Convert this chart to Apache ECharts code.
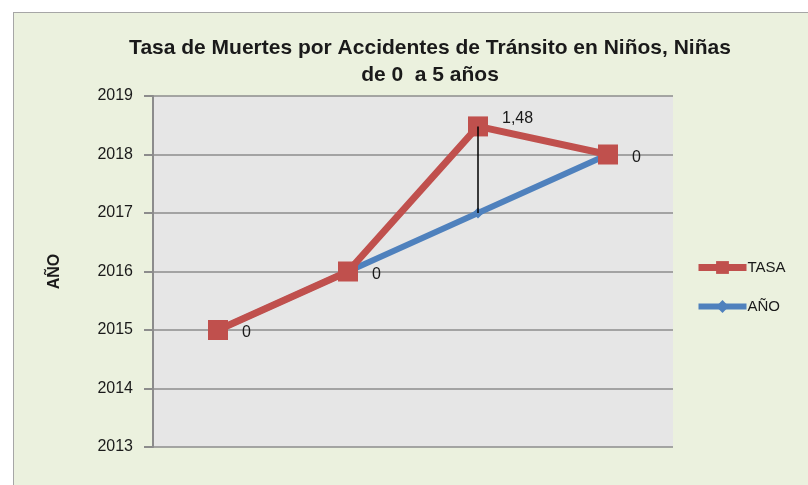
<!DOCTYPE html>
<html>
<head>
<meta charset="utf-8">
<script src="https://cdn.jsdelivr.net/npm/echarts@6/dist/echarts.min.js"></script>
<style>
  html, body { margin: 0; padding: 0; background: #ffffff; }
  #chart {
    position: absolute;
    left: 13px;
    top: 12px;
    width: 795px;
    height: 473px;
    background: #EBF1DE;
    border-left: 1px solid #a6a6a6;
    border-top: 1px solid #a6a6a6;
  }
</style>
</head>
<body>
<div id="chart"></div>
<script>
// categorias (sin etiqueta visible en el eje X)
var categorias = ['2015', '2016', '2017', '2018'];
// serie base
var anio = [2015, 2016, 2017, 2018];
// tasa, apilada sobre AÑO
var tasa = [0, 0, 1.48, 0];
var ticksY = { min: 2013, max: 2019, interval: 1 };

var fuente = '"Liberation Sans", Arial, sans-serif';

var chart = echarts.init(document.getElementById('chart'));

// lineas max-min entre las dos series
var lineasAltoBajo = [];
for (var i = 0; i < categorias.length; i++) {
  if (tasa[i] !== 0) {
    lineasAltoBajo.push([
      { coord: [i, anio[i]] },
      { coord: [i, anio[i] + tasa[i]] }
    ]);
  }
}

var etiquetasTasa = tasa.map(function (v) {
  var item = { value: v };
  if (v !== 0) {
    item.label = { offset: [0, -8] };
  } else {
    item.label = { offset: [0, 3] };
  }
  return item;
});

var option = {
  animation: false,
  title: {
    text: 'Tasa de Muertes por Accidentes de Tránsito en Niños, Niñas\nde 0  a 5 años',
    left: 411,
    top: 17,
    textAlign: 'center',
    textStyle: {
      fontFamily: fuente,
      fontSize: 21,
      fontWeight: 'bold',
      color: '#1a1a1a',
      lineHeight: 27
    }
  },
  legend: {
    data: [
      { name: 'TASA', itemStyle: { color: '#C0504D' }, lineStyle: { color: '#C0504D', width: 7 } },
      { name: 'AÑO', itemStyle: { color: '#4F81BD' }, lineStyle: { color: '#4F81BD', width: 6 } }
    ],
    orient: 'vertical',
    left: 676,
    top: 242,
    itemWidth: 48,
    itemHeight: 16,
    itemGap: 24,
    textStyle: { fontFamily: fuente, fontSize: 15, color: '#1a1a1a', padding: [0, 0, 0, -4] }
  },
  grid: {
    left: 139,
    top: 83,
    right: 136,
    bottom: 39,
    show: true,
    backgroundColor: '#E6E6E6',
    borderWidth: 0
  },
  xAxis: {
    type: 'category',
    data: categorias,
    boundaryGap: true,
    axisLine: { show: false },
    axisTick: { show: false },
    axisLabel: { show: false },
    splitLine: { show: false }
  },
  yAxis: {
    type: 'value',
    min: ticksY.min,
    max: ticksY.max,
    interval: ticksY.interval,
    name: 'AÑO',
    nameLocation: 'middle',
    nameRotate: 90,
    nameGap: 90,
    nameTextStyle: { fontFamily: fuente, fontSize: 16, fontWeight: 'bold', color: '#1a1a1a' },
    axisLine: { show: true, lineStyle: { color: '#8c8c8c', width: 2 } },
    axisTick: { show: true, inside: false, length: 9, lineStyle: { color: '#8c8c8c', width: 2 } },
    axisLabel: {
      margin: 20, fontFamily: fuente, fontSize: 16, color: '#1a1a1a',
      formatter: function (v) { return String(v); }
    },
    splitLine: { show: true, lineStyle: { color: '#8c8c8c', width: 1.5 } }
  },
  series: [
    {
      name: 'AÑO',
      type: 'line',
      stack: 'total',
      data: anio,
      symbol: 'diamond',
      symbolSize: 11,
      itemStyle: { color: '#4F81BD' },
      lineStyle: { color: '#4F81BD', width: 6 },
      z: 2
    },
    {
      name: 'TASA',
      type: 'line',
      stack: 'total',
      data: etiquetasTasa,
      symbol: 'rect',
      symbolSize: 20,
      itemStyle: { color: '#C0504D' },
      lineStyle: { color: '#C0504D', width: 7 },
      label: {
        show: true,
        position: 'right',
        distance: 14,
        fontFamily: fuente,
        fontSize: 16,
        color: '#1a1a1a',
        formatter: function (p) { return String(p.value).replace('.', ','); }
      },
      markLine: {
        silent: true,
        symbol: ['none', 'none'],
        label: { show: false },
        lineStyle: { color: '#000000', width: 1.5, type: 'solid' },
        data: lineasAltoBajo
      },
      z: 3
    }
  ]
};

chart.setOption(option);
</script>
</body>
</html>
